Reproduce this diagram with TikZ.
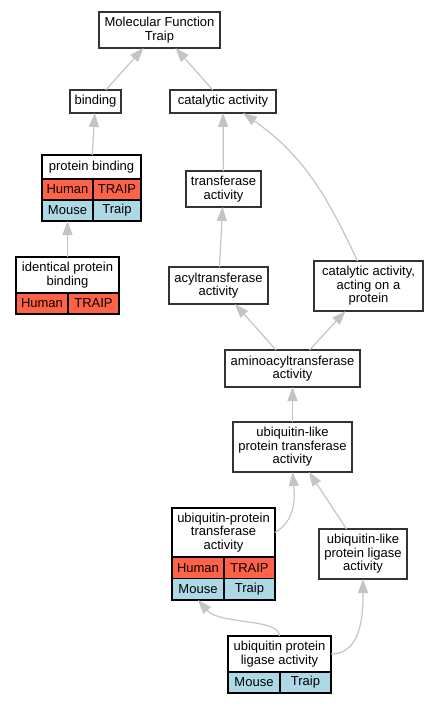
\documentclass[tikz,border=0pt]{standalone}
\usepackage{fontspec}
\setmainfont{Liberation Sans}
\usepackage{tikz}
\usetikzlibrary{positioning,arrows.meta}
\definecolor{humanred}{HTML}{FF6347}
\definecolor{mouseblue}{HTML}{ADD8E6}
\definecolor{edgegray}{HTML}{C4C4C4}
\newcommand{\gofont}{\fontsize{13}{13.5}\selectfont}
\begin{document}
\begin{tikzpicture}[x=1pt,y=1pt,
  term/.style={draw=black!80,line width=1.3pt,fill=white,align=center,inner sep=0pt,outer sep=0pt,font=\gofont},
  hdr/.style={term,draw=black},
  cell/.style={draw=black,line width=1.3pt,inner sep=0pt,outer sep=0pt,minimum height=21pt,anchor=north west,font=\gofont},
  human/.style={cell,fill=humanred},
  mouse/.style={cell,fill=mouseblue},
  isa/.style={draw=edgegray,line width=1.2pt,-{Triangle[length=14pt,width=10pt]}}]
      \useasboundingbox (0,0) rectangle (437,-704);

      \node[term,minimum width=121pt,minimum height=36pt] (mf) at (159.5,-30) {Molecular Function\\Traip};
      \node[term,minimum width=51pt,minimum height=23pt] (binding) at (95.5,-101.5) {binding};
      \node[term,minimum width=106pt,minimum height=23pt] (cat) at (223,-101.5) {catalytic activity};

      \node[hdr,minimum width=99pt,minimum height=24pt] (pb) at (91.5,-167) {protein binding};
      \node[human,minimum width=51pt] (pbh1) at (pb.south west) {Human};
      \node[human,minimum width=48pt] (pbh2) at (pbh1.north east) {TRAIP};
      \node[mouse,minimum width=51pt] (pbm1) at (pbh1.south west) {Mouse};
      \node[mouse,minimum width=48pt] (pbm2) at (pbm1.north east) {Traip};

      \node[term,minimum width=75pt,minimum height=36pt] (transf) at (223.5,-189) {transferase\\activity};

      \node[hdr,minimum width=103pt,minimum height=36pt] (ipb) at (67.5,-275) {identical protein\\binding};
      \node[human,minimum width=52pt] (ipbh1) at (ipb.south west) {Human};
      \node[human,minimum width=51pt] (ipbh2) at (ipbh1.north east) {TRAIP};

      \node[term,minimum width=99pt,minimum height=37pt] (acyl) at (218.5,-285.5) {acyltransferase\\activity};
      \node[term,minimum width=109pt,minimum height=50pt] (actprot) at (368.5,-286) {catalytic activity,\\acting on a\\protein};
      \node[term,minimum width=135pt,minimum height=37pt] (amino) at (292.5,-368.5) {aminoacyltransferase\\activity};
      \node[term,minimum width=119pt,minimum height=50pt] (ubl) at (292.5,-447) {ubiquitin-like\\protein transferase\\activity};

      \node[hdr,minimum width=103pt,minimum height=49pt] (ubpt) at (223.5,-532.5) {ubiquitin-protein\\transferase\\activity};
      \node[human,minimum width=52pt,minimum height=21.5pt] (ubpth1) at (ubpt.south west) {Human};
      \node[human,minimum width=51pt,minimum height=21.5pt] (ubpth2) at (ubpth1.north east) {TRAIP};
      \node[mouse,minimum width=52pt,minimum height=21.5pt] (ubptm1) at (ubpth1.south west) {Mouse};
      \node[mouse,minimum width=51pt,minimum height=21.5pt] (ubptm2) at (ubptm1.north east) {Traip};

      \node[term,minimum width=88pt,minimum height=50pt] (ubll) at (363,-554) {ubiquitin-like\\protein ligase\\activity};

      \node[hdr,minimum width=103pt,minimum height=36pt] (ubpl) at (279.5,-654) {ubiquitin protein\\ligase activity};
      \node[mouse,minimum width=52pt] (ubplm1) at (ubpl.south west) {Mouse};
      \node[mouse,minimum width=51pt] (ubplm2) at (ubplm1.north east) {Traip};

      \draw[isa] (binding) -- (mf);
      \draw[isa] (cat) -- (mf);
      \draw[isa] (pb) -- (binding);
      \draw[isa] (ipb) -- (pbm1);
      \draw[isa] (transf) -- (cat);
      \draw[isa] ([xshift=-11pt]actprot.north) to[out=115,in=-35] ([xshift=20pt]cat.south);
      \draw[isa] (acyl) -- (transf);
      \draw[isa] (amino) -- (acyl);
      \draw[isa] (amino) -- (actprot);
      \draw[isa] (ubl) -- (amino);
      \draw[isa] (ubpt.east) to[out=30,in=-85] (ubl.south);
      \draw[isa] (ubll) -- (ubl);
      \draw[isa] (ubpl.north) .. controls +(0,18) and +(22,-25) .. (ubptm1.south);
      \draw[isa] (ubpl.east) to[out=0,in=-90] (ubll.south);
    \end{tikzpicture}
\end{document}
